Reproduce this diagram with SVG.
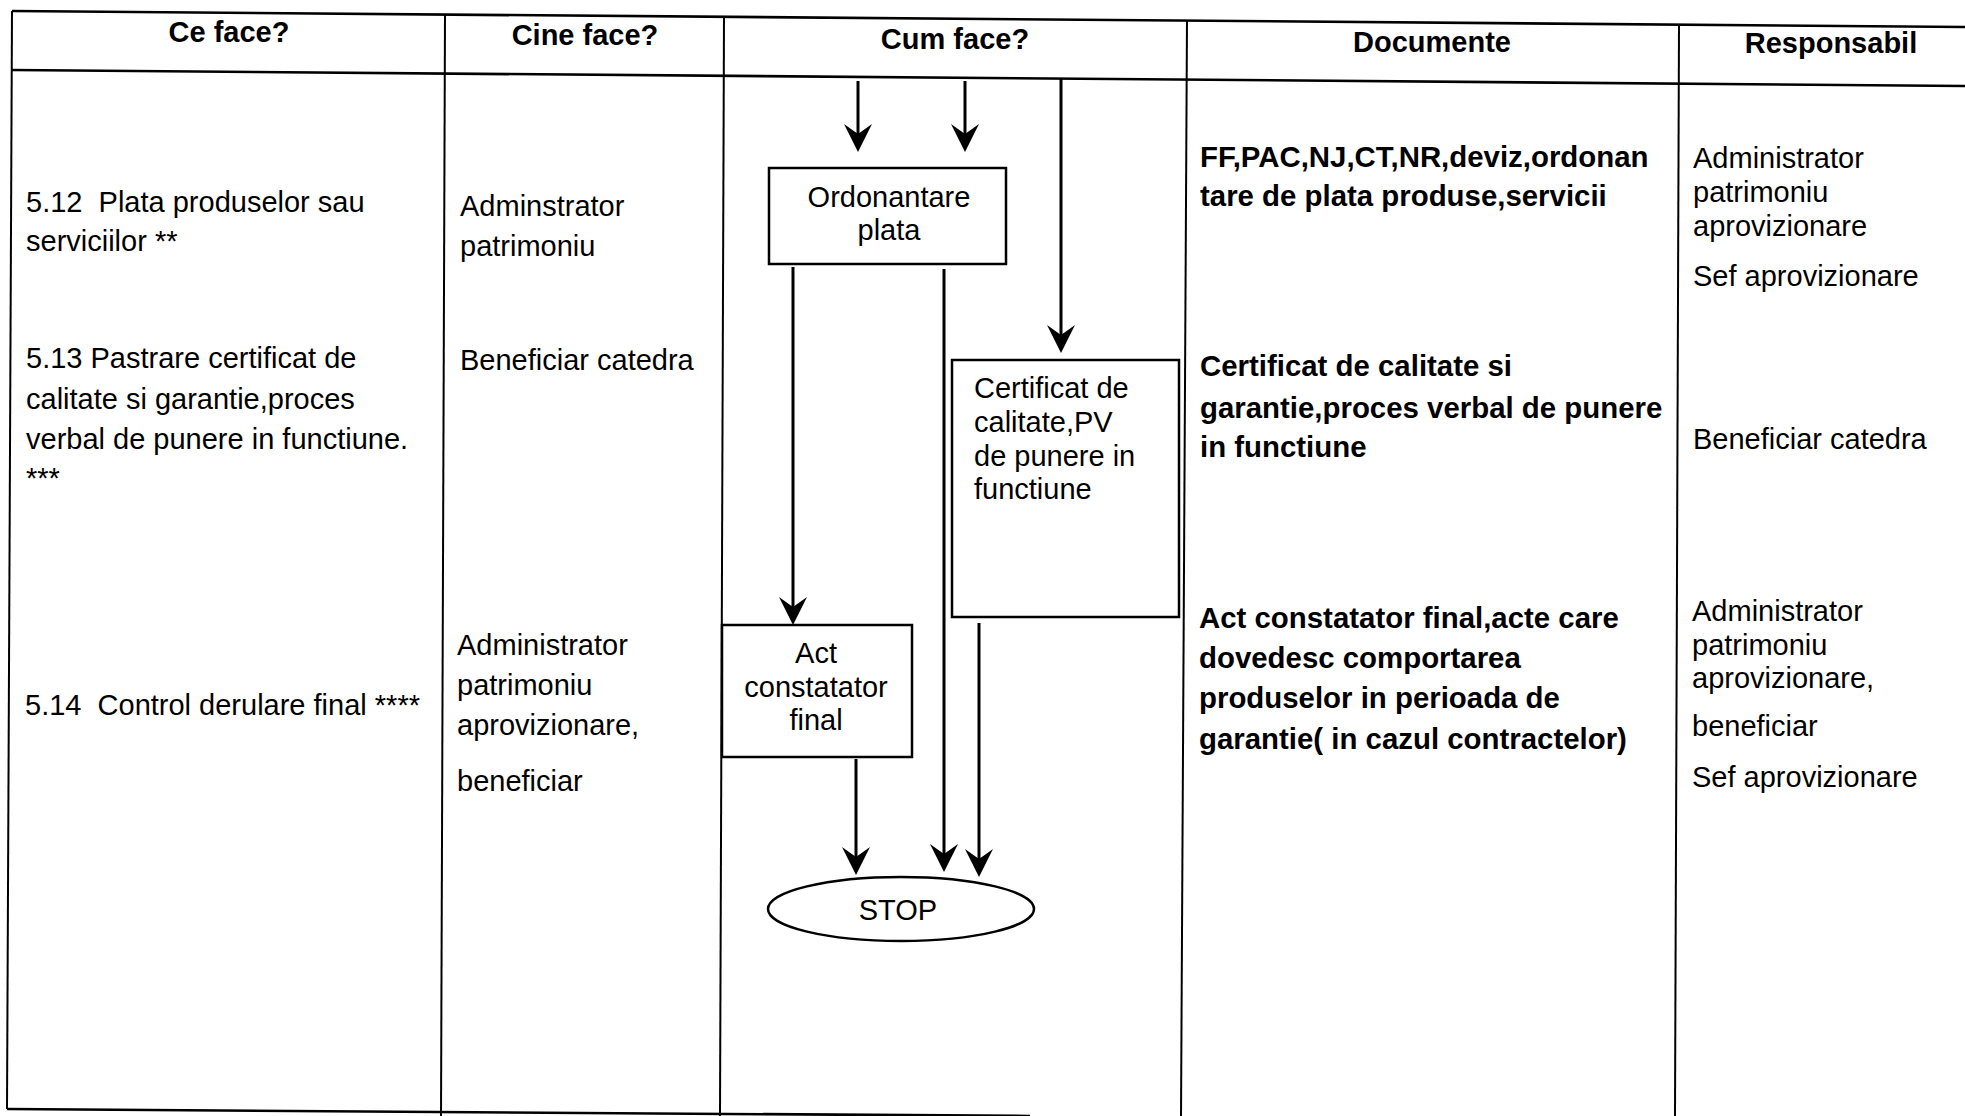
<svg xmlns="http://www.w3.org/2000/svg" width="1965" height="1116" viewBox="0 0 1965 1116">
<style>
  .grid { stroke: #000; stroke-width: 2; fill: none; }
  .hline { stroke: #000; stroke-width: 2.6; fill: none; }
  .box { stroke: #000; stroke-width: 2.5; fill: #fff; }
  .conn { stroke: #000; stroke-width: 3; fill: none; }
  .h { font-family: "Liberation Sans", Arial, sans-serif; font-size: 29px; font-weight: bold; fill: #000; text-anchor: middle; }
  .t { font-family: "Liberation Sans", Arial, sans-serif; font-size: 29px; fill: #000; }
  .b { font-family: "Liberation Sans", Arial, sans-serif; font-size: 29.4px; font-weight: bold; fill: #000; }
  .c { text-anchor: middle; }
</style>
<defs>
  <marker id="arr" viewBox="0 0 28 28" markerWidth="28" markerHeight="28" refX="22" refY="14" orient="auto" markerUnits="userSpaceOnUse">
    <path d="M0,0 L28,14 L0,28 L10,14 Z" fill="#000"/>
  </marker>
</defs>
<rect width="1965" height="1116" fill="#fff"/>

<g id="table">
  <line class="hline" x1="12" y1="11" x2="1965" y2="27"/>
  <line class="hline" x1="12" y1="70" x2="1965" y2="86"/>
  <line class="hline" x1="7" y1="1109" x2="1030" y2="1116"/>
  <line class="grid" x1="12" y1="11" x2="7" y2="1109"/>
  <line class="grid" x1="445" y1="14" x2="441" y2="1116"/>
  <line class="grid" x1="724" y1="16" x2="720" y2="1116"/>
  <line class="grid" x1="1187" y1="20" x2="1181" y2="1116"/>
  <line class="grid" x1="1679" y1="25" x2="1675" y2="1116"/>
</g>

<g id="headers">
  <text class="h" x="229" y="42">Ce face?</text>
  <text class="h" x="585" y="45">Cine face?</text>
  <text class="h" x="955" y="49">Cum face?</text>
  <text class="h" x="1432" y="52">Documente</text>
  <text class="h" x="1831" y="53">Responsabil</text>
</g>

<g id="col-ce-face">
  <text class="t" x="26" y="212" xml:space="preserve">5.12  Plata produselor sau</text>
  <text class="t" x="26" y="251">serviciilor **</text>
  <text class="t" x="26" y="368">5.13 Pastrare certificat de</text>
  <text class="t" x="26" y="409">calitate si garantie,proces</text>
  <text class="t" x="26" y="449">verbal de punere in functiune.</text>
  <text class="t" x="26" y="488">***</text>
  <text class="t" x="25" y="715" xml:space="preserve">5.14  Control derulare final ****</text>
</g>

<g id="col-cine-face">
  <text class="t" x="460" y="216">Adminstrator</text>
  <text class="t" x="460" y="256">patrimoniu</text>
  <text class="t" x="460" y="370">Beneficiar catedra</text>
  <text class="t" x="457" y="655">Administrator</text>
  <text class="t" x="457" y="695">patrimoniu</text>
  <text class="t" x="457" y="735">aprovizionare,</text>
  <text class="t" x="457" y="791">beneficiar</text>
</g>

<g id="connectors">
  <line class="conn" x1="858" y1="81" x2="858" y2="146" marker-end="url(#arr)"/>
  <line class="conn" x1="965" y1="81" x2="965" y2="146" marker-end="url(#arr)"/>
  <line class="conn" x1="1061" y1="79" x2="1061" y2="347" marker-end="url(#arr)"/>
  <line class="conn" x1="793" y1="267" x2="793" y2="619" marker-end="url(#arr)"/>
  <line class="conn" x1="944" y1="269" x2="944" y2="866" marker-end="url(#arr)"/>
  <line class="conn" x1="856" y1="759" x2="856" y2="869" marker-end="url(#arr)"/>
  <line class="conn" x1="979" y1="623" x2="979" y2="871" marker-end="url(#arr)"/>
</g>

<g id="node-ordonantare">
  <rect class="box" x="769" y="168" width="237" height="96"/>
  <text class="t c" x="889" y="207">Ordonantare</text>
  <text class="t c" x="889" y="240">plata</text>
</g>

<g id="node-certificat">
  <rect class="box" x="952" y="360" width="227" height="257"/>
  <text class="t" x="974" y="398">Certificat de</text>
  <text class="t" x="974" y="432">calitate,PV</text>
  <text class="t" x="974" y="466">de punere in</text>
  <text class="t" x="974" y="499">functiune</text>
</g>

<g id="node-act">
  <rect class="box" x="722" y="625" width="190" height="132"/>
  <text class="t c" x="816" y="663">Act</text>
  <text class="t c" x="816" y="697">constatator</text>
  <text class="t c" x="816" y="730">final</text>
</g>

<g id="node-stop">
  <ellipse class="box" cx="901" cy="909" rx="133" ry="32"/>
  <text class="t c" x="898" y="920">STOP</text>
</g>

<g id="col-documente">
  <text class="b" x="1200" y="167">FF,PAC,NJ,CT,NR,deviz,ordonan</text>
  <text class="b" x="1200" y="206">tare de plata produse,servicii</text>
  <text class="b" x="1200" y="376">Certificat de calitate si</text>
  <text class="b" x="1200" y="418">garantie,proces verbal de punere</text>
  <text class="b" x="1200" y="457">in functiune</text>
  <text class="b" x="1199" y="628">Act constatator final,acte care</text>
  <text class="b" x="1199" y="668">dovedesc comportarea</text>
  <text class="b" x="1199" y="708">produselor in perioada de</text>
  <text class="b" x="1199" y="749">garantie( in cazul contractelor)</text>
</g>

<g id="col-responsabil">
  <text class="t" x="1693" y="168">Administrator</text>
  <text class="t" x="1693" y="202">patrimoniu</text>
  <text class="t" x="1693" y="236">aprovizionare</text>
  <text class="t" x="1693" y="286">Sef aprovizionare</text>
  <text class="t" x="1693" y="449">Beneficiar catedra</text>
  <text class="t" x="1692" y="621">Administrator</text>
  <text class="t" x="1692" y="655">patrimoniu</text>
  <text class="t" x="1692" y="688">aprovizionare,</text>
  <text class="t" x="1692" y="736">beneficiar</text>
  <text class="t" x="1692" y="787">Sef aprovizionare</text>
</g>
</svg>
